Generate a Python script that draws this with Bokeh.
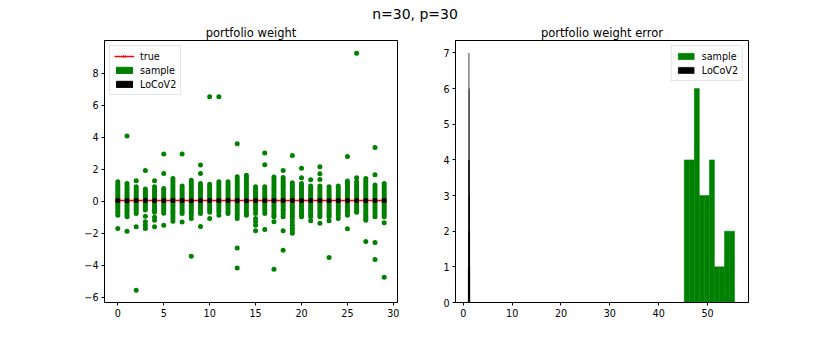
from bokeh.plotting import figure
from bokeh.layouts import row, column
from bokeh.models import Div, FixedTicker, ColumnDataSource
from bokeh.embed import file_html
from bokeh.resources import INLINE
import numpy as np

# ---------------- data ----------------
suptitle = "n=30, p=30"
assets = list(range(30))

# sample-estimated portfolio weights per asset
w0 = [1.21, 1.05, 0.92, 0.78, 0.66, 0.52, 0.4, 0.28, 0.15, 0.05, -0.08, -0.2, -0.33, -0.45, -0.6, -0.72, -0.875, -1.71]
w1 = [4.06, 1.1, 0.96, 0.82, 0.7, 0.55, 0.43, 0.3, 0.18, 0.06, -0.07, -0.19, -0.32, -0.46, -0.58, -0.71, -0.85, -0.98, -1.88]
w2 = [1.27, 0.9, 0.77, 0.63, 0.5, 0.38, 0.24, 0.12, 0.0, -0.12, -0.25, -0.38, -0.5, -0.64, -0.77, -1.6, -5.56]
w3 = [1.92, 0.75, 0.62, 0.48, 0.35, 0.22, 0.1, -0.02, -0.15, -0.28, -0.42, -0.56, -0.94, -1.29, -1.5, -1.71]
w4 = [1.27, 0.9, 0.76, 0.62, 0.5, 0.36, 0.23, 0.1, -0.03, -0.16, -0.3, -0.44, -0.57, -0.7, -1.0, -1.2, -1.6]
w5 = [2.94, 1.73, 0.79, 0.66, 0.52, 0.4, 0.27, 0.14, 0.02, -0.1, -0.23, -0.36, -0.49, -0.62, -0.75, -1.5]
w6 = [1.42, 1.28, 1.14, 1.0, 0.86, 0.72, 0.58, 0.45, 0.31, 0.18, 0.05, -0.08, -0.22, -0.35, -0.5, -0.64, -0.78, -0.93, -1.08, -1.25]
w7 = [2.94, 0.95, 0.81, 0.68, 0.54, 0.41, 0.28, 0.15, 0.02, -0.11, -0.24, -0.37, -0.5, -0.64, -0.77, -1.3]
w8 = [1.31, 1.17, 1.03, 0.9, 0.76, 0.62, 0.48, 0.35, 0.22, 0.08, -0.05, -0.19, -0.32, -0.46, -0.6, -0.74, -0.88, -1.08, -3.44]
w9 = [2.25, 1.73, 1.1, 0.96, 0.82, 0.68, 0.55, 0.42, 0.28, 0.15, 0.02, -0.11, -0.24, -0.37, -0.5, -0.64, -0.77, -1.58]
w10 = [6.52, 1.05, 0.92, 0.78, 0.65, 0.52, 0.39, 0.26, 0.13, 0.0, -0.13, -0.27, -0.41, -0.55, -0.7, -1.08]
w11 = [6.52, 1.21, 1.07, 0.93, 0.8, 0.66, 0.53, 0.4, 0.27, 0.14, 0.01, -0.12, -0.26, -0.4, -0.54, -0.68, -0.875]
w12 = [1.21, 1.07, 0.94, 0.8, 0.67, 0.54, 0.41, 0.28, 0.15, 0.02, -0.11, -0.24, -0.37, -0.5, -0.64, -0.77]
w13 = [3.58, 1.52, 1.37, 1.22, 1.08, 0.94, 0.8, 0.66, 0.52, 0.38, 0.24, 0.1, -0.04, -0.18, -0.32, -0.47, -0.62, -0.77, -0.92, -1.08, -2.92, -4.17]
w14 = [1.62, 1.47, 1.32, 1.18, 1.04, 0.9, 0.76, 0.62, 0.48, 0.34, 0.2, 0.07, -0.07, -0.2, -0.34, -0.48, -0.62, -0.75, -0.875]
w15 = [0.9, 0.76, 0.62, 0.49, 0.36, 0.23, 0.1, -0.03, -0.16, -0.3, -0.44, -0.58, -0.77, -1.08, -1.29, -1.5, -1.85]
w16 = [3.0, 2.27, 0.9, 0.77, 0.63, 0.5, 0.37, 0.24, 0.11, -0.02, -0.15, -0.29, -0.43, -0.57, -0.77, -1.77]
w17 = [1.5, 1.36, 1.22, 1.08, 0.94, 0.8, 0.66, 0.52, 0.38, 0.24, 0.1, -0.04, -0.18, -0.32, -0.46, -0.6, -0.75, -0.9, -0.98, -1.29, -4.25]
w18 = [1.92, 1.47, 1.33, 1.19, 1.05, 0.91, 0.77, 0.63, 0.49, 0.35, 0.21, 0.07, -0.07, -0.21, -0.35, -0.5, -0.65, -0.8, -0.98, -1.85, -3.06]
w19 = [2.85, 1.15, 1.01, 0.87, 0.73, 0.59, 0.45, 0.31, 0.17, 0.03, -0.11, -0.25, -0.39, -0.53, -0.67, -0.8, -0.95, -1.1, -1.3, -1.5, -1.7, -1.85, -2.0]
w20 = [2.06, 1.46, 1.1, 0.96, 0.82, 0.68, 0.54, 0.4, 0.26, 0.12, -0.02, -0.16, -0.3, -0.44, -0.58, -0.72, -0.86, -0.98]
w21 = [1.33, 0.95, 0.81, 0.67, 0.53, 0.39, 0.25, 0.11, -0.03, -0.17, -0.31, -0.45, -0.59, -0.73, -0.86, -0.98, -1.23]
w22 = [2.15, 1.71, 1.35, 0.95, 0.81, 0.67, 0.53, 0.39, 0.25, 0.11, -0.03, -0.17, -0.31, -0.45, -0.59, -0.73, -0.86, -0.98, -1.38]
w23 = [0.9, 0.76, 0.62, 0.48, 0.34, 0.2, 0.06, -0.08, -0.22, -0.36, -0.5, -0.64, -0.78, -0.9, -0.98, -1.23, -3.52]
w24 = [0.95, 0.81, 0.67, 0.53, 0.39, 0.25, 0.11, -0.03, -0.17, -0.31, -0.45, -0.59, -0.73, -0.875, -1.08]
w25 = [2.79, 1.25, 1.11, 0.97, 0.83, 0.69, 0.55, 0.41, 0.27, 0.13, -0.01, -0.15, -0.29, -0.43, -0.57, -0.71, -0.875, -1.73]
w26 = [9.23, 1.46, 1.21, 1.07, 0.93, 0.79, 0.65, 0.51, 0.37, 0.23, 0.09, -0.05, -0.19, -0.33, -0.47, -0.6, -0.7]
w27 = [1.42, 1.28, 1.14, 1.0, 0.86, 0.72, 0.58, 0.44, 0.3, 0.16, 0.02, -0.12, -0.26, -0.4, -0.54, -0.68, -0.82, -0.96, -1.08, -1.19, -2.52]
w28 = [3.35, 1.65, 1.0, 0.86, 0.72, 0.58, 0.44, 0.3, 0.16, 0.02, -0.12, -0.26, -0.4, -0.54, -0.68, -0.82, -0.98, -2.58, -3.65]
w29 = [1.1, 0.96, 0.82, 0.68, 0.54, 0.4, 0.26, 0.12, -0.02, -0.16, -0.3, -0.44, -0.58, -0.72, -0.86, -0.98, -1.35, -4.75]
sample_weights = [w0, w1, w2, w3, w4, w5, w6, w7, w8, w9, w10, w11, w12, w13, w14,
                  w15, w16, w17, w18, w19, w20, w21, w22, w23, w24, w25, w26, w27, w28, w29]

true_weights = [0.0333] * 30
locov2_weights = [0.034, 0.031, 0.035, 0.033, 0.032, 0.034, 0.033, 0.036, 0.031, 0.033,
                  0.034, 0.032, 0.033, 0.035, 0.031, 0.033, 0.034, 0.032, 0.033, 0.036,
                  0.032, 0.033, 0.034, 0.031, 0.033, 0.035, 0.032, 0.034, 0.033, 0.032]

# portfolio weight error histograms (10 bins each)
sample_err_range = [45.24, 55.54]
sample_err_counts = [4, 4, 6, 3, 3, 4, 1, 1, 2, 2]
locov2_err_range = [1.02, 1.32]
locov2_err_counts = [1, 0, 2, 4, 7, 6, 4, 3, 2, 1]

# ---------------- styling ----------------
FONT = "DejaVu Sans"
GREEN = "#008000"
TICK_PX = "9.6px"


def style(p, xticks, yticks, yover=None):
    p.xgrid.visible = False
    p.ygrid.visible = False
    p.outline_line_color = "black"
    p.outline_line_width = 1
    p.background_fill_color = "white"
    p.border_fill_color = "white"
    p.title.align = "center"
    p.title.text_font = FONT
    p.title.text_font_size = "11.5px"
    p.title.text_font_style = "normal"
    p.title.text_color = "black"
    p.title.standoff = 2
    p.xaxis.ticker = FixedTicker(ticks=xticks)
    p.yaxis.ticker = FixedTicker(ticks=yticks)
    for ax in (p.xaxis, p.yaxis):
        ax.axis_line_color = "black"
        ax.major_tick_line_color = "black"
        ax.major_tick_out = 3
        ax.major_tick_in = 0
        ax.minor_tick_line_color = None
        ax.major_label_text_font = FONT
        ax.major_label_text_font_size = TICK_PX
        ax.major_label_text_color = "black"
        ax.major_label_standoff = 3
    if yover:
        p.yaxis.major_label_overrides = yover


def style_legend(leg, loc):
    leg.location = loc
    leg.label_text_font = FONT
    leg.label_text_font_size = TICK_PX
    leg.label_text_color = "black"
    leg.label_height = 12
    leg.glyph_height = 8
    leg.glyph_width = 20
    leg.spacing = 2
    leg.padding = 4
    leg.margin = 5
    leg.label_standoff = 6
    leg.border_line_color = "#cccccc"
    leg.background_fill_alpha = 0.8


# ---------------- histogram sources ----------------
se = np.linspace(sample_err_range[0], sample_err_range[1], len(sample_err_counts) + 1)
le = np.linspace(locov2_err_range[0], locov2_err_range[1], len(locov2_err_counts) + 1)
src_s = ColumnDataSource(dict(left=se[:-1], right=se[1:], top=sample_err_counts, bottom=[0] * len(sample_err_counts)))
src_l = ColumnDataSource(dict(left=le[:-1], right=le[1:], top=locov2_err_counts, bottom=[0] * len(locov2_err_counts)))

# ---------------- left: portfolio weight ----------------
xs, ys = [], []
for i, col in zip(assets, sample_weights):
    xs.extend([i] * len(col))
    ys.extend(col)

p1 = figure(title="portfolio weight", frame_width=293, frame_height=262,
            x_range=(-1.45, 30.45), y_range=(-6.33, 10.03),
            min_border_left=104, min_border_right=25, min_border_top=18, min_border_bottom=30,
            output_backend="svg", toolbar_location=None)
p1.scatter(xs, ys, size=5, color=GREEN, line_width=0)
p1.line(assets, true_weights, color="red", line_width=1.5, legend_label="true")
p1.scatter(assets, true_weights, marker="x", size=7, line_color="red", line_width=1, legend_label="true")
p1.scatter(assets, locov2_weights, size=5, color="black", line_width=0)
# legend-only patches (hidden renderers)
p1.quad(source=src_s, left="left", right="right", top="top", bottom="bottom",
        fill_color=GREEN, line_color=GREEN, legend_label="sample", visible=False)
p1.quad(source=src_l, left="left", right="right", top="top", bottom="bottom",
        fill_color="black", line_color="black", legend_label="LoCoV2", visible=False)
style(p1, [0, 5, 10, 15, 20, 25, 30], [-6, -4, -2, 0, 2, 4, 6, 8],
      {-6: "\u22126", -4: "\u22124", -2: "\u22122"})
style_legend(p1.legend[0], "top_left")

# ---------------- right: portfolio weight error ----------------
p2 = figure(title="portfolio weight error", frame_width=293, frame_height=262,
            x_range=(-1.6, 58.4), y_range=(0, 7.35),
            min_border_left=33, min_border_right=60, min_border_top=18, min_border_bottom=30,
            output_backend="svg", toolbar_location=None)
p2.quad(source=src_s, left="left", right="right", top="top", bottom="bottom",
        fill_color=GREEN, line_color=GREEN, line_width=0.5, legend_label="sample")
p2.quad(source=src_l, left="left", right="right", top="top", bottom="bottom",
        fill_color="black", line_color="black", line_width=0.5, line_alpha=0.7, legend_label="LoCoV2")
style(p2, [0, 10, 20, 30, 40, 50], [0, 1, 2, 3, 4, 5, 6, 7])
style_legend(p2.legend[0], "top_right")

title_div = Div(text='<div style="width:830px;text-align:center;font-family:\'DejaVu Sans\';'
                     'font-size:14px;line-height:14px;padding-top:7px;color:black;">'
                + suptitle + '</div>', width=830, height=22, margin=(0, 0, 0, 0))

layout = column(title_div, row(p1, p2, spacing=0), spacing=0)

open("out.html", "w").write(file_html(layout, INLINE))
